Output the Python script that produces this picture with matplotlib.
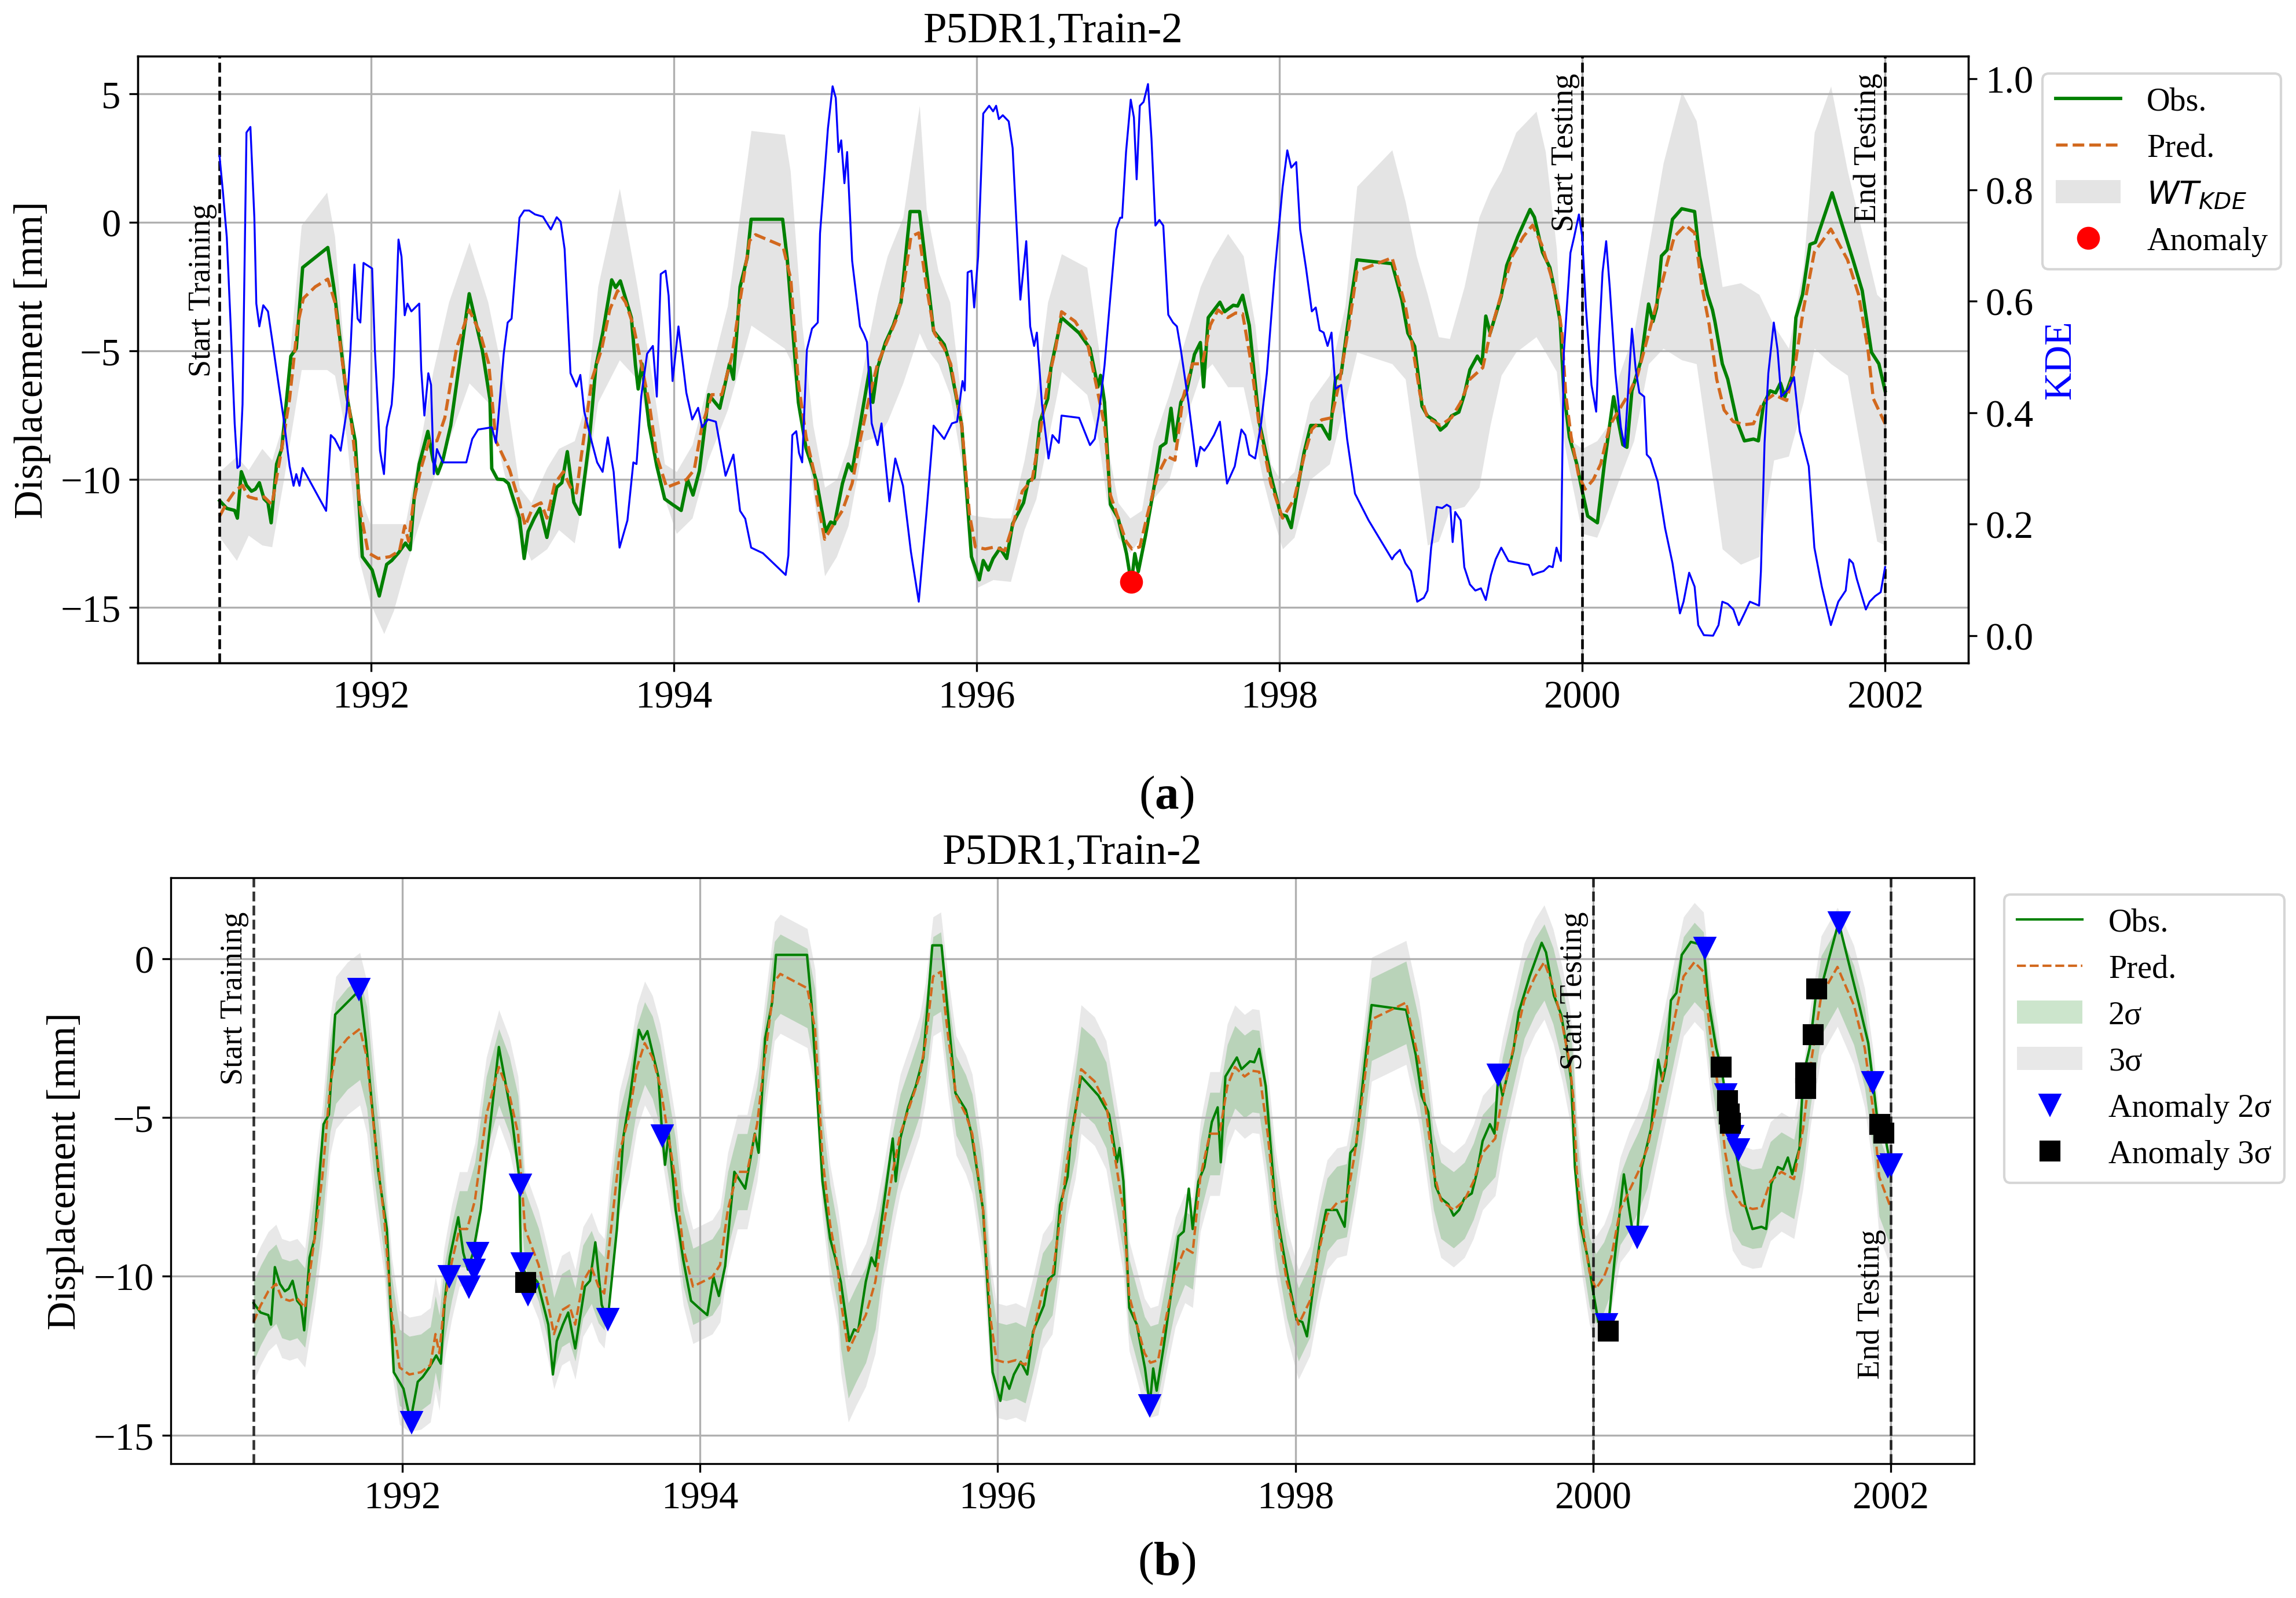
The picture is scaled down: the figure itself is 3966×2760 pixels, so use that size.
import numpy as np
import matplotlib
matplotlib.use('Agg')
import matplotlib.pyplot as plt
import matplotlib.transforms as mtransforms

plt.rcParams['font.family'] = ['Liberation Serif', 'DejaVu Serif']
plt.rcParams['mathtext.fontset'] = 'custom'
plt.rcParams['mathtext.it'] = 'DejaVu Sans:italic'
plt.rcParams['mathtext.rm'] = 'Liberation Serif'
plt.rcParams['mathtext.bf'] = 'Liberation Serif:bold'

######### data (decimal years, mm)
t_obs = [1991.001, 1991.048, 1991.100, 1991.118, 1991.144, 1991.178, 1991.211, 1991.237, 1991.263, 1991.294,
         1991.320, 1991.341, 1991.377, 1991.411, 1991.471, 1991.507, 1991.549, 1991.715, 1991.756, 1991.839,
         1991.896, 1991.943, 1992.008, 1992.055, 1992.104, 1992.137, 1992.182, 1992.228, 1992.259, 1992.285,
         1992.319, 1992.376, 1992.410, 1992.441, 1992.475, 1992.527, 1992.649, 1992.736, 1992.786, 1992.798,
         1992.835, 1992.877, 1992.908, 1992.981, 1993.012, 1993.038, 1993.079, 1993.115, 1993.162, 1993.227,
         1993.261, 1993.297, 1993.340, 1993.380, 1993.442, 1993.486, 1993.531, 1993.590, 1993.616, 1993.647,
         1993.720, 1993.747, 1993.765, 1993.790, 1993.837, 1993.888, 1993.940, 1993.992, 1994.049, 1994.091,
         1994.127, 1994.169, 1994.231, 1994.304, 1994.368, 1994.394, 1994.438, 1994.485, 1994.511, 1994.719,
         1994.750, 1994.823, 1994.874, 1994.913, 1994.946, 1995.003, 1995.036, 1995.062, 1995.114, 1995.152,
         1995.178, 1995.230, 1995.295, 1995.315, 1995.346, 1995.398, 1995.450, 1995.501, 1995.561, 1995.623,
         1995.716, 1995.786, 1995.824, 1995.902, 1995.966, 1996.018, 1996.044, 1996.078, 1996.109, 1996.155,
         1996.199, 1996.238, 1996.310, 1996.341, 1996.380, 1996.419, 1996.470, 1996.491, 1996.561, 1996.677,
         1996.749, 1996.801, 1996.819, 1996.845, 1996.884, 1996.935, 1996.990, 1997.022, 1997.045, 1997.068,
         1997.116, 1997.176, 1997.214, 1997.250, 1997.284, 1997.310, 1997.349, 1997.388, 1997.439, 1997.478,
         1997.499, 1997.530, 1997.607, 1997.638, 1997.695, 1997.724, 1997.757, 1997.801, 1997.866, 1997.943,
         1998.008, 1998.047, 1998.078, 1998.119, 1998.163, 1998.207, 1998.279, 1998.331, 1998.370, 1998.408,
         1998.473, 1998.512, 1998.744, 1998.809, 1998.848, 1998.893, 1998.942, 1998.978, 1999.027, 1999.063,
         1999.100, 1999.136, 1999.185, 1999.221, 1999.258, 1999.307, 1999.338, 1999.363, 1999.392, 1999.465,
         1999.501, 1999.574, 1999.655, 1999.684, 1999.737, 1999.786, 1999.818, 1999.854, 1999.878, 1999.915,
         1999.964, 2000.000, 2000.036, 2000.100, 2000.146, 2000.207, 2000.268, 2000.295, 2000.328, 2000.389,
         2000.438, 2000.467, 2000.491, 2000.523, 2000.560, 2000.596, 2000.657, 2000.742, 2000.774, 2000.827,
         2000.860, 2000.876, 2000.925, 2000.961, 2001.022, 2001.071, 2001.131, 2001.163, 2001.197, 2001.241,
         2001.277, 2001.309, 2001.338, 2001.387, 2001.411, 2001.455, 2001.504, 2001.540, 2001.650, 2001.788,
         2001.849, 2001.910, 2001.959, 2002.000]
obs = [-10.84, -11.14, -11.22, -11.52, -9.71, -10.24, -10.47, -10.39, -10.14, -10.77,
       -10.92, -11.70, -9.41, -8.81, -5.21, -4.91, -1.76, -0.98, -2.58, -6.71,
       -8.51, -13.02, -13.54, -14.55, -13.32, -13.17, -12.87, -12.49, -12.75, -10.77,
       -9.41, -8.14, -9.26, -9.79, -9.26, -7.91, -2.78, -5.00, -6.90, -9.59,
       -10.00, -10.02, -10.17, -11.52, -13.09, -12.04, -11.52, -11.14, -12.27, -10.32,
       -10.14, -8.93, -10.90, -11.37, -8.51, -5.59, -4.31, -2.24, -2.54, -2.28,
       -3.71, -5.56, -6.49, -5.51, -7.91, -9.49, -10.77, -10.99, -11.22, -10.02,
       -10.62, -9.68, -6.71, -7.24, -5.51, -6.11, -2.51, -1.38, 0.12, 0.12,
       -1.46, -7.01, -8.81, -9.49, -10.17, -12.04, -11.67, -11.74, -10.17, -9.41,
       -9.68, -7.91, -5.66, -7.01, -5.66, -4.68, -4.01, -3.11, 0.42, 0.42,
       -4.23, -4.76, -5.51, -7.91, -13.02, -13.92, -13.17, -13.54, -13.09, -12.69,
       -13.09, -11.74, -10.92, -10.09, -9.94, -7.76, -6.86, -5.66, -3.71, -4.31,
       -4.91, -6.41, -5.96, -7.01, -10.99, -11.52, -12.90, -14.06, -12.90, -13.60,
       -12.19, -10.17, -8.74, -8.59, -7.24, -8.51, -7.01, -6.56, -5.14, -4.68,
       -6.41, -3.71, -3.11, -3.48, -3.23, -3.26, -2.84, -4.01, -7.76, -9.86,
       -11.37, -11.44, -11.89, -10.39, -8.96, -7.91, -7.91, -8.44, -6.11, -5.89,
       -3.03, -1.46, -1.61, -3.03, -4.31, -4.83, -7.16, -7.54, -7.73, -8.09,
       -7.91, -7.54, -7.39, -6.71, -5.74, -5.21, -5.51, -3.65, -4.31, -2.88,
       -1.68, -0.56, 0.50, 0.20, -1.16, -1.76, -2.66, -3.86, -6.56, -8.36,
       -9.41, -10.47, -11.44, -11.70, -9.41, -6.79, -8.66, -8.76, -6.56, -5.36,
       -3.18, -3.86, -3.33, -1.31, -1.08, 0.12, 0.53, 0.42, -1.31, -2.81,
       -3.41, -3.86, -5.51, -6.11, -7.76, -8.51, -8.44, -8.51, -7.09, -6.56,
       -6.64, -6.26, -6.79, -5.96, -3.71, -2.81, -0.86, -0.78, 1.15, -1.46,
       -2.66, -5.06, -5.51, -6.56]

t_pred = [1991.001, 1991.048, 1991.100, 1991.152, 1991.191, 1991.243, 1991.294, 1991.346, 1991.411, 1991.463,
          1991.515, 1991.554, 1991.632, 1991.715, 1991.762, 1991.813, 1991.878, 1991.930, 1991.982, 1992.047,
          1992.125, 1992.189, 1992.223, 1992.249, 1992.280, 1992.332, 1992.384, 1992.436, 1992.488, 1992.565,
          1992.649, 1992.721, 1992.778, 1992.825, 1992.916, 1992.981, 1993.019, 1993.071, 1993.123, 1993.162,
          1993.214, 1993.271, 1993.318, 1993.357, 1993.396, 1993.460, 1993.525, 1993.577, 1993.629, 1993.681,
          1993.733, 1993.785, 1993.837, 1993.888, 1993.953, 1994.018, 1994.083, 1994.135, 1994.187, 1994.252,
          1994.317, 1994.384, 1994.436, 1994.501, 1994.540, 1994.721, 1994.773, 1994.823, 1994.874, 1994.926,
          1994.946, 1994.997, 1995.049, 1995.114, 1995.178, 1995.230, 1995.295, 1995.346, 1995.411, 1995.475,
          1995.514, 1995.566, 1995.618, 1995.669, 1995.721, 1995.786, 1995.829, 1995.902, 1995.953, 1995.992,
          1996.057, 1996.121, 1996.186, 1996.238, 1996.302, 1996.367, 1996.419, 1996.470, 1996.522, 1996.561,
          1996.651, 1996.729, 1996.793, 1996.845, 1996.884, 1996.935, 1996.987, 1997.026, 1997.078, 1997.129,
          1997.194, 1997.258, 1997.310, 1997.362, 1997.426, 1997.491, 1997.543, 1997.594, 1997.659, 1997.711,
          1997.757, 1997.814, 1997.866, 1997.943, 1998.021, 1998.098, 1998.163, 1998.214, 1998.279, 1998.344,
          1998.395, 1998.460, 1998.512, 1998.744, 1998.832, 1998.881, 1998.929, 1998.978, 1999.063, 1999.136,
          1999.197, 1999.258, 1999.343, 1999.392, 1999.465, 1999.538, 1999.611, 1999.672, 1999.732, 1999.793,
          1999.842, 1999.866, 1999.891, 1999.927, 1999.976, 2000.019, 2000.073, 2000.122, 2000.182, 2000.243,
          2000.304, 2000.365, 2000.426, 2000.487, 2000.560, 2000.608, 2000.681, 2000.742, 2000.791, 2000.839,
          2000.888, 2000.937, 2000.998, 2001.071, 2001.131, 2001.192, 2001.265, 2001.350, 2001.411, 2001.460,
          2001.533, 2001.642, 2001.752, 2001.825, 2001.886, 2001.922, 2002.000]
pred = [-11.44, -10.92, -10.47, -10.24, -10.69, -10.77, -10.69, -10.99, -8.81, -6.86,
        -4.01, -2.96, -2.51, -2.21, -3.11, -5.51, -8.14, -11.22, -12.87, -13.09,
        -13.02, -12.79, -11.82, -12.42, -10.92, -9.56, -8.51, -8.51, -7.61, -4.91,
        -3.41, -4.31, -5.51, -8.51, -9.64, -10.92, -11.82, -11.07, -10.92, -11.52,
        -10.17, -9.71, -10.32, -10.54, -8.81, -6.11, -4.91, -3.41, -2.66, -3.11,
        -4.01, -5.51, -7.01, -9.11, -10.32, -10.17, -10.02, -9.64, -7.91, -6.71,
        -6.71, -5.21, -3.11, -0.71, -0.48, -0.93, -2.21, -6.26, -8.36, -9.71,
        -10.77, -12.34, -11.82, -11.22, -10.17, -8.51, -6.71, -5.51, -4.61, -3.71,
        -2.66, -0.56, -0.41, -2.51, -4.31, -4.91, -5.51, -7.91, -11.37, -12.64,
        -12.72, -12.64, -12.79, -11.82, -10.47, -10.02, -8.21, -6.26, -4.91, -3.48,
        -3.86, -4.61, -6.41, -7.91, -10.62, -11.52, -12.42, -12.72, -12.64, -11.37,
        -9.86, -9.11, -9.26, -6.86, -5.51, -5.51, -4.01, -3.41, -3.71, -3.53,
        -3.56, -5.51, -7.91, -10.17, -11.52, -10.77, -9.11, -8.06, -7.69, -7.61,
        -6.26, -4.01, -1.91, -1.38, -3.26, -4.91, -6.71, -7.61, -7.91, -7.61,
        -7.01, -6.11, -5.66, -4.31, -2.81, -1.31, -0.56, -0.11, -0.86, -2.06,
        -3.26, -4.31, -6.71, -8.36, -9.86, -10.39, -10.02, -9.41, -7.91, -7.31,
        -6.71, -5.96, -4.61, -3.26, -1.61, -0.56, -0.11, -0.41, -2.51, -4.01,
        -6.11, -7.31, -7.76, -7.88, -7.84, -7.01, -6.71, -6.94, -5.36, -3.41,
        -1.16, -0.26, -1.46, -2.81, -4.91, -6.86, -7.84]
# half-width of the 2-sigma band around the prediction (mm)
sig2 = [1.25, 1.25, 1.25, 1.25, 1.25, 1.25, 1.25, 1.25, 1.45, 1.45,
        1.45, 1.60, 1.60, 1.60, 1.60, 1.45, 1.20, 1.20, 1.20, 1.20,
        1.20, 1.20, 1.20, 1.20, 1.20, 1.20, 1.20, 1.20, 1.20, 1.20,
        1.20, 1.20, 1.20, 1.20, 1.15, 1.15, 1.15, 1.15, 1.15, 1.15,
        1.15, 1.15, 1.15, 1.15, 1.30, 1.30, 1.30, 1.30, 1.30, 1.30,
        1.30, 1.30, 1.30, 1.20, 1.20, 1.20, 1.20, 1.20, 1.20, 1.20,
        1.20, 1.20, 1.20, 1.25, 1.25, 1.25, 1.25, 1.25, 1.25, 1.25,
        1.50, 1.50, 1.50, 1.50, 1.50, 1.25, 1.25, 1.25, 1.25, 1.25,
        1.25, 1.25, 1.25, 1.25, 1.25, 1.25, 1.25, 1.25, 1.20, 1.20,
        1.20, 1.20, 1.20, 1.20, 1.20, 1.20, 1.20, 1.20, 1.35, 1.35,
        1.35, 1.35, 1.35, 1.35, 1.15, 1.15, 1.15, 1.15, 1.15, 1.15,
        1.15, 1.15, 1.15, 1.15, 1.30, 1.30, 1.30, 1.30, 1.30, 1.30,
        1.30, 1.30, 1.30, 1.15, 1.15, 1.15, 1.15, 1.15, 1.15, 1.15,
        1.15, 1.30, 1.30, 1.30, 1.30, 1.30, 1.20, 1.20, 1.20, 1.20,
        1.20, 1.20, 1.20, 1.20, 1.20, 1.20, 1.20, 1.20, 1.20, 1.20,
        1.20, 1.20, 1.20, 1.10, 1.10, 1.10, 1.10, 1.10, 1.10, 1.25,
        1.25, 1.25, 1.25, 1.25, 1.25, 1.25, 1.25, 1.25, 1.25, 1.25,
        1.25, 1.25, 1.25, 1.25, 1.25, 1.25, 1.25, 1.25, 1.25, 1.25,
        1.25, 1.25, 1.25, 1.25, 1.25, 1.25, 1.25]

t_wt = [1991.001, 1991.113, 1991.191, 1991.281, 1991.346, 1991.424, 1991.541, 1991.709, 1991.761, 1991.839,
        1991.917, 1991.995, 1992.086, 1992.150, 1992.228, 1992.306, 1992.410, 1992.514, 1992.649, 1992.773,
        1992.877, 1992.981, 1993.058, 1993.162, 1993.240, 1993.344, 1993.422, 1993.499, 1993.642, 1993.759,
        1993.862, 1993.940, 1994.018, 1994.122, 1994.226, 1994.355, 1994.511, 1994.732, 1994.770, 1994.848,
        1994.920, 1994.997, 1995.075, 1995.152, 1995.256, 1995.346, 1995.411, 1995.514, 1995.623, 1995.669,
        1995.747, 1995.824, 1995.902, 1995.953, 1996.005, 1996.109, 1996.225, 1996.315, 1996.393, 1996.470,
        1996.561, 1996.729, 1996.806, 1996.858, 1996.935, 1997.013, 1997.090, 1997.168, 1997.271, 1997.375,
        1997.478, 1997.556, 1997.659, 1997.762, 1997.840, 1997.891, 1997.943, 1998.021, 1998.098, 1998.202,
        1998.331, 1998.434, 1998.512, 1998.744, 1998.832, 1998.905, 1998.978, 1999.051, 1999.124, 1999.221,
        1999.319, 1999.392, 1999.465, 1999.562, 1999.696, 1999.757, 1999.830, 1999.878, 1999.927, 2000.000,
        2000.097, 2000.170, 2000.243, 2000.341, 2000.438, 2000.535, 2000.657, 2000.754, 2000.827, 2000.925,
        2001.046, 2001.168, 2001.265, 2001.363, 2001.460, 2001.533, 2001.642, 2001.752, 2001.873, 2001.946,
        2002.000]
wt_lo = [-12.27, -13.17, -12.19, -12.57, -12.64, -10.02, -5.74, -5.74, -5.96, -8.36,
         -13.02, -14.82, -16.02, -15.12, -13.47, -11.97, -10.02, -8.51, -6.26, -7.01,
         -9.71, -12.12, -13.17, -12.72, -11.97, -12.49, -10.02, -7.01, -5.36, -6.11,
         -8.51, -10.77, -12.12, -11.52, -9.26, -7.31, -4.01, -4.91, -5.36, -7.76,
         -10.47, -13.77, -13.02, -11.82, -8.51, -8.36, -7.76, -6.26, -4.31, -4.91,
         -5.51, -6.71, -9.41, -13.02, -14.22, -13.92, -13.99, -11.97, -10.77, -8.51,
         -5.81, -6.71, -8.51, -10.77, -12.27, -12.87, -12.27, -10.77, -10.02, -7.76,
         -5.96, -5.51, -6.41, -6.41, -8.51, -10.02, -11.22, -12.72, -12.27, -10.02,
         -9.41, -7.01, -5.06, -5.51, -6.11, -9.26, -12.57, -12.42, -11.22, -11.07,
         -10.32, -7.91, -5.96, -5.06, -4.46, -5.06, -5.81, -8.51, -10.02, -12.12,
         -12.27, -11.22, -10.02, -8.51, -5.51, -4.91, -5.36, -5.51, -8.51, -12.72,
         -13.32, -13.02, -9.26, -9.11, -7.01, -4.91, -5.51, -5.96, -10.02, -12.42,
         -12.57]
wt_hi = [-9.71, -9.11, -9.64, -8.81, -9.26, -7.76, -0.11, 1.17, -0.56, -6.26,
         -10.47, -11.74, -11.74, -11.74, -11.74, -9.26, -5.81, -3.11, -0.78, -3.11,
         -6.11, -10.32, -10.92, -9.56, -8.81, -8.51, -7.01, -2.51, 1.32, -2.51,
         -6.26, -9.41, -9.71, -8.66, -6.26, -3.26, 3.57, 3.42, 2.00, -4.01,
         -7.91, -10.32, -10.02, -8.66, -5.51, -2.81, -1.31, 0.20, 4.55, 0.50,
         -1.91, -3.11, -7.01, -11.37, -11.44, -11.52, -11.52, -9.26, -6.71, -3.11,
         -1.23, -1.76, -4.91, -8.51, -10.92, -11.52, -11.22, -8.51, -6.71, -4.61,
         -2.51, -1.46, -0.44, -1.31, -4.01, -7.01, -9.41, -10.17, -9.71, -7.01,
         -5.96, -3.26, 1.40, 2.82, 0.80, -1.31, -2.81, -4.46, -4.53, -2.51,
         0.20, 1.25, 2.00, 3.50, 4.32, 2.75, -1.01, -6.26, -8.51, -8.81,
         -8.51, -7.91, -5.96, -4.31, -1.01, 2.30, 5.08, 3.95, 1.25, -2.51,
         -2.36, -2.81, -4.01, -4.91, -1.76, 3.50, 5.30, 2.00, -1.01, -2.81,
         -3.11]

t_kde = [1991.000, 1991.022, 1991.048, 1991.074, 1991.100, 1991.118, 1991.134, 1991.152, 1991.178, 1991.204,
         1991.230, 1991.243, 1991.263, 1991.289, 1991.320, 1991.346, 1991.372, 1991.424, 1991.463, 1991.489,
         1991.507, 1991.528, 1991.549, 1991.704, 1991.735, 1991.761, 1991.800, 1991.839, 1991.865, 1991.891,
         1991.912, 1991.930, 1991.951, 1992.008, 1992.026, 1992.060, 1992.086, 1992.104, 1992.137, 1992.150,
         1992.182, 1992.202, 1992.223, 1992.241, 1992.267, 1992.319, 1992.332, 1992.353, 1992.379, 1992.397,
         1992.415, 1992.436, 1992.475, 1992.630, 1992.669, 1992.708, 1992.799, 1992.825, 1992.838, 1992.877,
         1992.903, 1992.929, 1992.981, 1993.012, 1993.045, 1993.084, 1993.136, 1993.188, 1993.227, 1993.253,
         1993.279, 1993.318, 1993.357, 1993.383, 1993.409, 1993.460, 1993.494, 1993.530, 1993.564, 1993.603,
         1993.642, 1993.694, 1993.733, 1993.754, 1993.785, 1993.824, 1993.862, 1993.888, 1993.914, 1993.946,
         1993.966, 1993.992, 1994.031, 1994.083, 1994.122, 1994.161, 1994.187, 1994.226, 1994.278, 1994.342,
         1994.394, 1994.438, 1994.472, 1994.511, 1994.589, 1994.739, 1994.757, 1994.783, 1994.809, 1994.827,
         1994.848, 1994.879, 1994.913, 1994.951, 1994.966, 1994.997, 1995.018, 1995.049, 1995.070, 1995.088,
         1995.106, 1995.127, 1995.145, 1995.178, 1995.230, 1995.256, 1995.276, 1995.307, 1995.346, 1995.372,
         1995.424, 1995.463, 1995.514, 1995.566, 1995.618, 1995.669, 1995.716, 1995.786, 1995.837, 1995.871,
         1995.907, 1995.922, 1995.941, 1995.966, 1995.984, 1996.010, 1996.044, 1996.083, 1996.109, 1996.129,
         1996.147, 1996.173, 1996.212, 1996.238, 1996.289, 1996.328, 1996.354, 1996.380, 1996.398, 1996.432,
         1996.475, 1996.501, 1996.543, 1996.561, 1996.677, 1996.749, 1996.780, 1996.806, 1996.845, 1996.884,
         1996.922, 1996.948, 1996.961, 1996.987, 1997.018, 1997.039, 1997.057, 1997.078, 1997.103, 1997.132,
         1997.155, 1997.181, 1997.207, 1997.233, 1997.266, 1997.297, 1997.323, 1997.349, 1997.401, 1997.452,
         1997.478, 1997.504, 1997.530, 1997.568, 1997.607, 1997.654, 1997.705, 1997.749, 1997.775, 1997.801,
         1997.840, 1997.879, 1997.917, 1997.969, 1998.021, 1998.052, 1998.078, 1998.111, 1998.137, 1998.176,
         1998.214, 1998.240, 1998.266, 1998.292, 1998.318, 1998.344, 1998.370, 1998.408, 1998.447, 1998.499,
         1998.589, 1998.744, 1998.759, 1998.796, 1998.832, 1998.869, 1998.893, 1998.910, 1998.954, 1998.978,
         1999.002, 1999.039, 1999.075, 1999.105, 1999.129, 1999.144, 1999.161, 1999.197, 1999.221, 1999.258,
         1999.294, 1999.331, 1999.363, 1999.397, 1999.428, 1999.465, 1999.513, 1999.586, 1999.647, 1999.672,
         1999.708, 1999.745, 1999.781, 1999.805, 1999.830, 1999.859, 1999.878, 1999.922, 1999.946, 1999.978,
         2000.000, 2000.024, 2000.061, 2000.092, 2000.109, 2000.134, 2000.158, 2000.182, 2000.219, 2000.255,
         2000.280, 2000.304, 2000.328, 2000.353, 2000.377, 2000.409, 2000.426, 2000.450, 2000.499, 2000.547,
         2000.596, 2000.645, 2000.669, 2000.706, 2000.742, 2000.766, 2000.803, 2000.864, 2000.900, 2000.925,
         2000.961, 2000.998, 2001.034, 2001.071, 2001.107, 2001.168, 2001.180, 2001.204, 2001.229, 2001.265,
         2001.290, 2001.314, 2001.363, 2001.399, 2001.436, 2001.496, 2001.533, 2001.582, 2001.642, 2001.691,
         2001.740, 2001.764, 2001.788, 2001.813, 2001.873, 2001.898, 2001.934, 2001.971, 2002.000]
kde = [0.861, 0.798, 0.715, 0.555, 0.381, 0.301, 0.305, 0.415, 0.903, 0.913,
       0.750, 0.596, 0.555, 0.593, 0.582, 0.534, 0.485, 0.388, 0.304, 0.269,
       0.290, 0.269, 0.301, 0.224, 0.360, 0.353, 0.332, 0.402, 0.513, 0.666,
       0.569, 0.562, 0.669, 0.659, 0.513, 0.332, 0.290, 0.374, 0.415, 0.464,
       0.711, 0.680, 0.575, 0.596, 0.582, 0.596, 0.478, 0.395, 0.471, 0.450,
       0.290, 0.335, 0.311, 0.311, 0.353, 0.370, 0.374, 0.346, 0.381, 0.506,
       0.562, 0.569, 0.750, 0.763, 0.763, 0.756, 0.752, 0.729, 0.751, 0.743,
       0.694, 0.471, 0.447, 0.468, 0.402, 0.346, 0.311, 0.294, 0.356, 0.294,
       0.158, 0.207, 0.311, 0.308, 0.429, 0.506, 0.520, 0.429, 0.649, 0.655,
       0.610, 0.457, 0.555, 0.436, 0.388, 0.409, 0.374, 0.388, 0.384, 0.287,
       0.325, 0.224, 0.210, 0.158, 0.148, 0.109, 0.144, 0.360, 0.367, 0.328,
       0.311, 0.513, 0.551, 0.562, 0.722, 0.833, 0.910, 0.986, 0.965, 0.868,
       0.889, 0.812, 0.868, 0.673, 0.555, 0.541, 0.527, 0.381, 0.342, 0.381,
       0.241, 0.318, 0.269, 0.151, 0.061, 0.221, 0.377, 0.353, 0.381, 0.384,
       0.457, 0.440, 0.652, 0.655, 0.589, 0.680, 0.937, 0.951, 0.941, 0.951,
       0.927, 0.934, 0.923, 0.875, 0.603, 0.708, 0.555, 0.520, 0.544, 0.415,
       0.318, 0.360, 0.346, 0.395, 0.391, 0.342, 0.353, 0.395, 0.485, 0.610,
       0.729, 0.750, 0.750, 0.868, 0.962, 0.930, 0.819, 0.951, 0.958, 0.990,
       0.892, 0.736, 0.746, 0.736, 0.576, 0.562, 0.555, 0.513, 0.415, 0.304,
       0.339, 0.332, 0.342, 0.360, 0.384, 0.273, 0.304, 0.370, 0.360, 0.325,
       0.318, 0.381, 0.471, 0.652, 0.805, 0.871, 0.840, 0.850, 0.729, 0.659,
       0.582, 0.589, 0.548, 0.544, 0.520, 0.544, 0.443, 0.450, 0.353, 0.255,
       0.207, 0.137, 0.144, 0.154, 0.130, 0.116, 0.085, 0.061, 0.068, 0.081,
       0.158, 0.231, 0.229, 0.235, 0.231, 0.168, 0.222, 0.207, 0.123, 0.092,
       0.081, 0.085, 0.064, 0.109, 0.137, 0.158, 0.134, 0.130, 0.127, 0.109,
       0.113, 0.116, 0.125, 0.123, 0.158, 0.134, 0.506, 0.687, 0.715, 0.756,
       0.715, 0.589, 0.450, 0.402, 0.520, 0.652, 0.708, 0.624, 0.471, 0.374,
       0.339, 0.443, 0.551, 0.478, 0.436, 0.429, 0.325, 0.318, 0.276, 0.193,
       0.130, 0.040, 0.061, 0.113, 0.088, 0.019, 0.001, 0.000, 0.019, 0.061,
       0.057, 0.047, 0.019, 0.040, 0.061, 0.054, 0.116, 0.346, 0.471, 0.562,
       0.513, 0.429, 0.443, 0.464, 0.367, 0.304, 0.158, 0.088, 0.019, 0.061,
       0.081, 0.137, 0.130, 0.102, 0.047, 0.061, 0.071, 0.078, 0.123]

# WT_KDE anomaly (top panel)
t_anom_kde = [1997.021]
v_anom_kde = [-14.0]

# sigma anomalies (bottom panel)
t_anom2 = [1991.708, 1992.062, 1992.315, 1992.446, 1992.481, 1992.506, 1992.793, 1992.805, 1992.843, 1993.380,
           1993.747, 1997.022, 1999.363, 2000.090, 2000.295, 2000.753, 2000.890, 2000.939, 2000.976, 2001.653,
           2001.881, 2001.980, 2002.005]
v_anom2 = [-0.96, -14.59, -10.00, -10.32, -9.80, -9.27, -7.12, -9.59, -10.55, -11.35,
           -5.56, -14.06, -3.65, -11.50, -8.76, 0.35, -4.27, -5.59, -6.00, 1.15,
           -3.88, -6.53, -6.47]
t_anom3 = [1992.830, 2000.102, 2000.860, 2000.902, 2000.915, 2000.922, 2001.428, 2001.430, 2001.477, 2001.502,
           2001.926, 2001.955]
v_anom3 = [-10.20, -11.73, -3.41, -4.47, -4.88, -5.18, -4.08, -3.59, -2.39, -0.96,
           -5.21, -5.49]

year_ticks = [1992, 1994, 1996, 1998, 2000, 2002]
t_start_train = 1991.0
t_start_test = 2000.0
t_end_test = 2002.0

assert len(t_obs) == len(obs)
assert len(t_pred) == len(pred) == len(sig2)
assert len(t_wt) == len(wt_lo) == len(wt_hi)
assert len(t_kde) == len(kde)

t_pred = np.array(t_pred)
pred = np.array(pred)
sig2 = np.array(sig2)
sig3 = 1.5 * sig2

##########################
fig = plt.figure(figsize=(13.22, 9.2033), dpi=300)

c_obs = 'green'
c_pred = 'chocolate'

########## (a) WT_KDE
ax = fig.add_axes([0.0600, 0.5849, 0.7973, 0.3796])
h_wt = ax.fill_between(t_wt, wt_lo, wt_hi, color='lightgray', alpha=0.6, linewidth=0, label='$WT_{KDE}$')
h_obs, = ax.plot(t_obs, obs, color=c_obs, linewidth=1.4, label='Obs.')
h_pred, = ax.plot(t_pred, pred, color=c_pred, linestyle='--', linewidth=1.3, label='Pred.')
h_an, = ax.plot(t_anom_kde, v_anom_kde, 'o', color='red', markersize=8.5, label='Anomaly', zorder=5)
for xv in [t_start_train, t_start_test, t_end_test]:
    ax.axvline(xv, color='k', linestyle='--', linewidth=1.1)

ax.set_xlim(1990.46, 2002.55)
ax.set_ylim(-17.16, 6.47)
ax.set_xticks(year_ticks)
ax.set_xticklabels([str(y) for y in year_ticks])
ax.set_yticks([-15, -10, -5, 0, 5])
ax.tick_params(axis='both', labelsize=16)
ax.set_ylabel('Displacement [mm]', fontsize=16.5)
ax.set_title('P5DR1,Train-2', fontsize=17.5)
ax.grid(True)

trans = mtransforms.blended_transform_factory(ax.transData, ax.transAxes)
ax.text(t_start_train - 0.015, 0.758, 'Start Training', rotation=90, ha='right', va='top', transform=trans, fontsize=13)
ax.text(t_start_test - 0.015, 0.973, 'Start Testing', rotation=90, ha='right', va='top', transform=trans, fontsize=13)
ax.text(t_end_test - 0.015, 0.973, 'End Testing', rotation=90, ha='right', va='top', transform=trans, fontsize=13)

ax2 = ax.twinx()
ax2.plot(t_kde, kde, color='blue', linewidth=0.8)
ax2.set_ylim(-0.049, 1.04)
ax2.set_yticks([0.0, 0.2, 0.4, 0.6, 0.8, 1.0])
ax2.tick_params(axis='y', labelsize=16)
ax2.set_ylabel('KDE', color='blue', fontsize=16)

ax.legend(handles=[h_obs, h_pred, h_wt, h_an], loc='upper left', bbox_to_anchor=(0.8896, 0.9536),
          bbox_transform=fig.transFigure, borderaxespad=0., fontsize=13.5)

########## (b) sigma bands
bx = fig.add_axes([0.0744, 0.0840, 0.7854, 0.3666])
h3 = bx.fill_between(t_pred, pred - sig3, pred + sig3, color='lightgray', alpha=0.5, linewidth=0, label='3σ')
h2 = bx.fill_between(t_pred, pred - sig2, pred + sig2, color='green', alpha=0.2, linewidth=0, label='2σ')
b_obs, = bx.plot(t_obs, obs, color=c_obs, linewidth=1.0, label='Obs.')
b_pred, = bx.plot(t_pred, pred, color=c_pred, linestyle='--', linewidth=1.0, label='Pred.')
b_a2, = bx.plot(t_anom2, v_anom2, 'v', color='blue', markersize=8, label='Anomaly 2σ', zorder=5)
b_a3, = bx.plot(t_anom3, v_anom3, 's', color='black', markersize=7.5, label='Anomaly 3σ', zorder=6)
for xv in [t_start_train, t_start_test, t_end_test]:
    bx.axvline(xv, color='k', alpha=0.8, linestyle='--', linewidth=1.1)

bx.set_xlim(1990.445, 2002.56)
bx.set_ylim(-15.9, 2.55)
bx.set_xticks(year_ticks)
bx.set_xticklabels([str(y) for y in year_ticks])
bx.set_yticks([-15, -10, -5, 0])
bx.tick_params(axis='both', labelsize=16)
bx.set_ylabel('Displacement [mm]', fontsize=16.5)
bx.set_title('P5DR1,Train-2', fontsize=17.5)
bx.grid(True)

trans_b = mtransforms.blended_transform_factory(bx.transData, bx.transAxes)
bx.text(t_start_train - 0.03, 0.943, 'Start Training', rotation=90, ha='right', va='top', transform=trans_b, fontsize=13)
bx.text(t_start_test - 0.03, 0.943, 'Start Testing', rotation=90, ha='right', va='top', transform=trans_b, fontsize=13)
bx.text(t_end_test - 0.03, 0.401, 'End Testing', rotation=90, ha='right', va='top', transform=trans_b, fontsize=13)

bx.legend(handles=[b_obs, b_pred, h2, h3, b_a2, b_a3], loc='upper left', bbox_to_anchor=(0.8729, 0.4401),
          bbox_transform=fig.transFigure, borderaxespad=0., fontsize=13.5)

fig.text(0.508, 0.501, r'($\mathbf{a}$)', ha='center', va='center', fontsize=20)
fig.text(0.508, 0.022, r'($\mathbf{b}$)', ha='center', va='center', fontsize=20)

fig.savefig('out.png', dpi=300)
